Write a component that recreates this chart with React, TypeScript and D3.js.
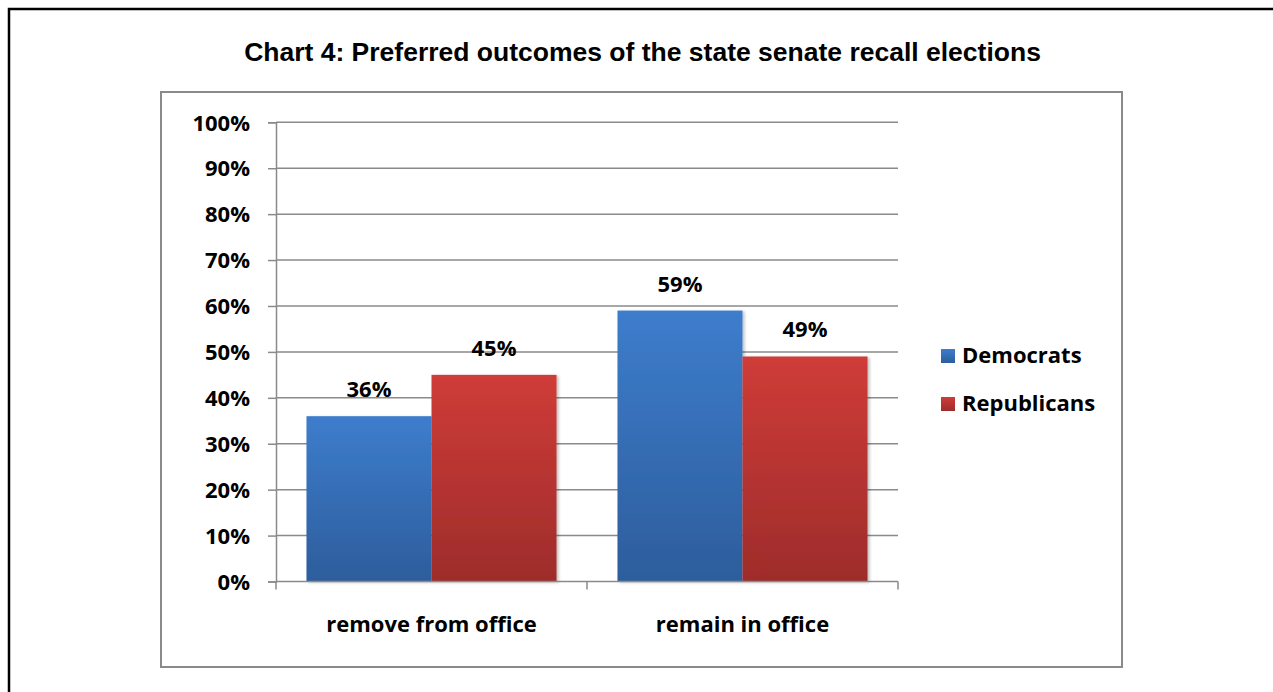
import { useEffect, useRef } from "react";
import * as d3 from "d3";

const title = "Chart 4: Preferred outcomes of the state senate recall elections";
const categories = ["remove from office", "remain in office"];
const seriesNames = ["Democrats", "Republicans"];
const democrats = [0.36, 0.59];
const republicans = [0.45, 0.49];
const yTicks = [0, 0.1, 0.2, 0.3, 0.4, 0.5, 0.6, 0.7, 0.8, 0.9, 1.0];

const W = 1273;
const H = 692;
const labelFont = "'Open Sans', 'Noto Sans', sans-serif";
const labelSize = 22;

export default function App() {
  const svgRef = useRef<SVGSVGElement>(null);

  useEffect(() => {
    document.body.style.margin = "0";
    const svg = d3.select(svgRef.current);
    svg.selectAll("*").remove();

    const plot = { left: 276, right: 898, top: 122.3, bottom: 581.5 };

    const defs = svg.append("defs");
    const grads = [
      { id: "gBlue", top: "#3d7dcc", bottom: "#2d5d9c" },
      { id: "gRed", top: "#cf3c38", bottom: "#9e2c2b" },
    ];
    grads.forEach((g) => {
      const lg = defs
        .append("linearGradient")
        .attr("id", g.id)
        .attr("x1", 0)
        .attr("y1", 0)
        .attr("x2", 0)
        .attr("y2", 1);
      lg.append("stop").attr("offset", "0%").attr("stop-color", g.top);
      lg.append("stop").attr("offset", "100%").attr("stop-color", g.bottom);
    });
    const f = defs
      .append("filter")
      .attr("id", "shadow")
      .attr("x", "-10%")
      .attr("y", "-10%")
      .attr("width", "130%")
      .attr("height", "120%");
    f.append("feDropShadow")
      .attr("dx", 2)
      .attr("dy", 1)
      .attr("stdDeviation", 1.5)
      .attr("flood-opacity", 0.25);

    // outer frame (only top & left visible)
    svg
      .append("path")
      .attr("d", `M9,${H} L9,9 L${W},9`)
      .attr("fill", "none")
      .attr("stroke", "#000")
      .attr("stroke-width", 2.5);

    // chart area border
    svg
      .append("rect")
      .attr("x", 161)
      .attr("y", 92)
      .attr("width", 961)
      .attr("height", 575)
      .attr("fill", "#fff")
      .attr("stroke", "#8a8a8a")
      .attr("stroke-width", 2);

    svg
      .append("text")
      .attr("x", 642.5)
      .attr("y", 61)
      .attr("text-anchor", "middle")
      .attr("font-family", "'Liberation Sans', Arial, sans-serif")
      .attr("font-weight", "bold")
      .attr("font-size", 26.5)
      .attr("fill", "#000")
      .text(title);

    const y = d3
      .scaleLinear()
      .domain([0, 1])
      .range([plot.bottom, plot.top]);

    const x0 = d3
      .scaleBand()
      .domain(categories)
      .range([plot.left, plot.right])
      .paddingInner(0.196)
      .paddingOuter(0.098);

    const x1 = d3
      .scaleBand()
      .domain(seriesNames)
      .range([0, x0.bandwidth()]);

    const catStep = (plot.right - plot.left) / categories.length;

    // gridlines
    svg
      .append("g")
      .selectAll("line")
      .data(yTicks.slice(1))
      .enter()
      .append("line")
      .attr("x1", plot.left)
      .attr("x2", plot.right)
      .attr("y1", (d) => y(d))
      .attr("y2", (d) => y(d))
      .attr("stroke", "#8a8a8a")
      .attr("stroke-width", 1.5);

    // y axis
    const yAxis = d3
      .axisLeft(y)
      .tickValues(yTicks)
      .tickSize(8)
      .tickPadding(18)
      .tickFormat((d) => `${Math.round(+d * 100)}%`);
    const gy = svg
      .append("g")
      .attr("transform", `translate(${plot.left},0)`)
      .call(yAxis);
    gy.select(".domain").attr("stroke", "#8a8a8a").attr("stroke-width", 1.5);
    gy.selectAll(".tick line").attr("stroke", "#8a8a8a").attr("stroke-width", 1.5);
    gy.selectAll(".tick text")
      .attr("font-family", labelFont)
      .attr("font-weight", "bold")
      .attr("font-size", labelSize)
      .attr("fill", "#000")
      .attr("dy", "0.35em");

    // bars
    const rows = categories.map((c, i) => ({
      cat: c,
      vals: [democrats[i], republicans[i]],
    }));
    const fills = ["url(#gBlue)", "url(#gRed)"];

    const groups = svg
      .append("g")
      .selectAll("g")
      .data(rows)
      .enter()
      .append("g")
      .attr("transform", (d) => `translate(${x0(d.cat)},0)`);

    groups
      .selectAll("rect")
      .data((d) => d.vals.map((v, j) => ({ v, s: seriesNames[j], j })))
      .enter()
      .append("rect")
      .attr("x", (d) => x1(d.s)!)
      .attr("y", (d) => y(d.v))
      .attr("width", x1.bandwidth())
      .attr("height", (d) => y(0) - y(d.v))
      .attr("fill", (d) => fills[d.j])
      .attr("filter", "url(#shadow)");

    groups
      .selectAll("text")
      .data((d) => d.vals.map((v, j) => ({ v, s: seriesNames[j] })))
      .enter()
      .append("text")
      .attr("x", (d) => x1(d.s)! + x1.bandwidth() / 2)
      .attr("y", (d) => y(d.v) - 19)
      .attr("text-anchor", "middle")
      .attr("font-family", labelFont)
      .attr("font-weight", "bold")
      .attr("font-size", labelSize)
      .attr("fill", "#000")
      .text((d) => `${Math.round(d.v * 100)}%`);

    // x axis
    svg
      .append("line")
      .attr("x1", plot.left)
      .attr("x2", plot.right)
      .attr("y1", plot.bottom)
      .attr("y2", plot.bottom)
      .attr("stroke", "#8a8a8a")
      .attr("stroke-width", 1.5);
    svg
      .append("g")
      .selectAll("line")
      .data(d3.range(categories.length + 1))
      .enter()
      .append("line")
      .attr("x1", (i) => plot.left + i * catStep)
      .attr("x2", (i) => plot.left + i * catStep)
      .attr("y1", plot.bottom)
      .attr("y2", plot.bottom + 8)
      .attr("stroke", "#8a8a8a")
      .attr("stroke-width", 1.5);
    svg
      .append("g")
      .selectAll("text")
      .data(categories)
      .enter()
      .append("text")
      .attr("x", (d) => x0(d)! + x0.bandwidth() / 2)
      .attr("y", 632)
      .attr("text-anchor", "middle")
      .attr("font-family", labelFont)
      .attr("font-weight", "bold")
      .attr("font-size", labelSize)
      .attr("fill", "#000")
      .text((d) => d);

    // legend
    const legend = svg
      .append("g")
      .selectAll("g")
      .data(seriesNames)
      .enter()
      .append("g")
      .attr("transform", (_d, i) => `translate(941,${349 + i * 48})`);
    legend
      .append("rect")
      .attr("width", 14)
      .attr("height", 14)
      .attr("fill", (_d, i) => fills[i]);
    legend
      .append("text")
      .attr("x", 21)
      .attr("y", 14)
      .attr("font-family", labelFont)
      .attr("font-weight", "bold")
      .attr("font-size", labelSize)
      .attr("fill", "#000")
      .text((d) => d);
  }, []);

  return (
    <svg
      ref={svgRef}
      width={W}
      height={H}
      style={{ display: "block", background: "#fff" }}
    ></svg>
  );
}
